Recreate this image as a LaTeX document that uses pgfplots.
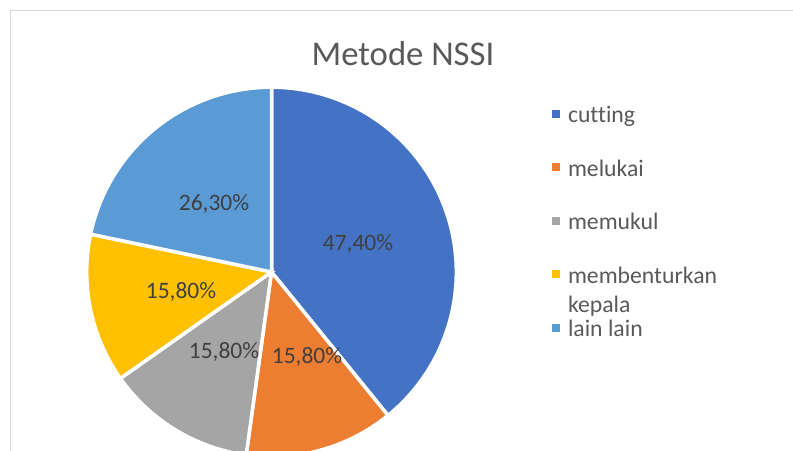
\documentclass[border=0pt]{standalone}
\usepackage{fontspec}
\setmainfont{Carlito}[Ligatures={NoCommon}]
\usepackage{pgfplots}
\pgfplotsset{compat=1.18}
\definecolor{cA}{HTML}{4472C4}
\definecolor{cB}{HTML}{ED7D31}
\definecolor{cC}{HTML}{A5A5A5}
\definecolor{cD}{HTML}{FFC000}
\definecolor{cE}{HTML}{5B9BD5}
\definecolor{txt}{HTML}{595959}
\definecolor{lbl}{HTML}{404040}
\definecolor{frame}{HTML}{D9D9D9}
\begin{document}
\begin{tikzpicture}
\pgfmathsetmacro\Tot{47.4+15.8+15.8+15.8+26.3}
\pgfmathsetmacro\Deg{360/\Tot}
\pgfmathsetmacro\angA{90}
\pgfmathsetmacro\angB{\angA-\Deg*47.4}
\pgfmathsetmacro\angC{\angB-\Deg*15.8}
\pgfmathsetmacro\angD{\angC-\Deg*15.8}
\pgfmathsetmacro\angE{\angD-\Deg*15.8}
\pgfmathsetmacro\angF{\angE-\Deg*26.3}
\def\cx{271.5}\def\cy{179}\def\R{184.8}
\begin{axis}[
  name=pie,
  width=793bp,height=451bp,scale only axis,
  xmin=0,xmax=793,ymin=0,ymax=451,
  hide axis,
  legend image code/.code={\fill[#1,draw=none] (0bp,-1bp) rectangle (8bp,7bp);},
  legend style={at={(rel axis cs:0.6961,0.7672)},anchor=north west,
    draw=none,fill=none,inner sep=0pt,outer sep=0pt,
    font=\fontsize{23.8}{29}\selectfont,text=txt,
    column sep=8bp,row sep=29.5bp,
    nodes={inner sep=0pt,text height=18bp,text depth=6bp}},
  legend cell align=left,
]
\draw[frame,line width=1.5bp] (axis cs:10.5,0) -- (axis cs:10.5,440.5) -- (axis cs:793,440.5);
\addplot[fill=cA,draw=white,line width=3.5bp,domain=\angB:\angA,samples=120]
  ({\cx+\R*cos(x)},{\cy+\R*sin(x)}) -- (axis cs:\cx,\cy) -- cycle;
\addlegendentry{cutting}
\addplot[fill=cB,draw=white,line width=3.5bp,domain=\angC:\angB,samples=60]
  ({\cx+\R*cos(x)},{\cy+\R*sin(x)}) -- (axis cs:\cx,\cy) -- cycle;
\addlegendentry{melukai}
\addplot[fill=cC,draw=white,line width=3.5bp,domain=\angD:\angC,samples=60]
  ({\cx+\R*cos(x)},{\cy+\R*sin(x)}) -- (axis cs:\cx,\cy) -- cycle;
\addlegendentry{memukul}
\addplot[fill=cD,draw=white,line width=3.5bp,domain=\angE:\angD,samples=60]
  ({\cx+\R*cos(x)},{\cy+\R*sin(x)}) -- (axis cs:\cx,\cy) -- cycle;
\addlegendentry{\smash{\begin{tabular}[t]{@{}l@{}}membenturkan\\kepala\end{tabular}}}
\addplot[fill=cE,draw=white,line width=3.5bp,domain=\angF:\angE,samples=90]
  ({\cx+\R*cos(x)},{\cy+\R*sin(x)}) -- (axis cs:\cx,\cy) -- cycle;
\addlegendentry{lain lain}
\begin{scope}[every node/.style={font=\fontsize{23.6}{28.8}\selectfont,text=lbl,anchor=base,inner sep=0pt}]
\node at (axis cs:358,200) {47,40\%};
\node at (axis cs:307,87) {15,80\%};
\node at (axis cs:224,92) {15,80\%};
\node at (axis cs:181,152) {15,80\%};
\node at (axis cs:214,240) {26,30\%};
\end{scope}
\node[font=\fontsize{34.8}{42}\selectfont,text=txt,anchor=base,inner sep=0pt] at (axis cs:403,385) {Metode NSSI};
\end{axis}
\pgfresetboundingbox
\useasboundingbox (pie.south west) rectangle (pie.north east);
\end{tikzpicture}
\end{document}
